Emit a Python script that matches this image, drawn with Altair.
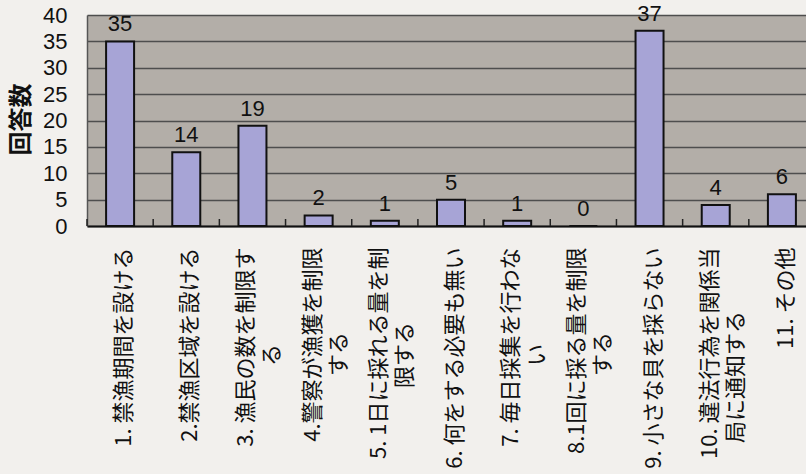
import altair as alt
import pandas as pd

# Survey answers: first and (optional) second line of each category label
items = [
    "1. 禁漁期間を設ける",
    "2.禁漁区域を設ける",
    "3. 漁民の数を制限す",
    "4.警察が漁獲を制限",
    "5. 1日に採れる量を制",
    "6. 何をする必要も無い",
    "7. 毎日採集を行わな",
    "8.1回に採る量を制限",
    "9. 小さな貝を採らない",
    "10. 違法行為を関係当",
    "11. その他",
]
item_tails = ["", "", "る", "する", "限する", "", "い", "する", "", "局に通知する", ""]
counts = [35, 14, 19, 2, 1, 5, 1, 0, 37, 4, 6]
y_ticks = [0, 5, 10, 15, 20, 25, 30, 35, 40]

df = pd.DataFrame({"item": items, "tail": item_tails, "count": counts})

VIEW_W, H = 719, 211   # visible plot area (runs to the right edge)
BAND_W = 728           # full category range, last band partly cut off
PAD_INNER = 0.577
STEP = BAND_W / len(items)
LABEL_PAD = 21
JP = "Noto Sans CJK JP"
NUM = "Liberation Sans"

x_scale = alt.Scale(domain=items, range=[0, BAND_W],
                    paddingInner=PAD_INNER, paddingOuter=PAD_INNER / 2)
y_scale = alt.Scale(domain=[0, 40])

wrapped = [i for i, t in zip(items, item_tails) if t]
wrapped_test = "indexof([" + ",".join("'" + w + "'" for w in wrapped) + "], datum.value) >= 0"

x_axis = alt.Axis(
    orient="bottom", labelAngle=-90, labelAlign="right",
    labelBaseline="middle", labelFont=JP, labelFontSize=22,
    labelColor="#111111", labelLimit=600, labelOverlap=False,
    labelBound=False, labelPadding=LABEL_PAD,
    labelOffset={"condition": {"test": wrapped_test, "value": -6}, "value": 4},
    ticks=False, tickSize=0, domain=True, domainColor="#111111",
    domainWidth=2, grid=False,
)

y_axis = alt.Axis(
    values=y_ticks, labelFont=NUM, labelFontSize=22,
    labelColor="#111111", labelPadding=20, ticks=False, tickSize=0,
    domain=True, domainColor="#555555", domainWidth=1.5,
    grid=True, gridColor="#4e4e4e", gridWidth=1.5,
    titleFont=JP, titleFontSize=24, titleFontWeight="bold",
    titleColor="#111111", titleAngle=270, titleX=-66, titleY=104,
    titleAlign="center", titleBaseline="middle",
)


def x_enc(**kw):
    return alt.X("item:N", sort=None, title=None, scale=x_scale, axis=x_axis, **kw)


bars = alt.Chart(df).mark_bar(
    color="#a7a4d6", stroke="#111111", strokeWidth=2
).encode(
    x=x_enc(),
    y=alt.Y("count:Q", scale=y_scale, title="回答数", axis=y_axis),
)

# Short inward tick marks on the category boundaries
ticks = alt.Chart(df).mark_rule(
    color="#222222", strokeWidth=1.5, xOffset=-STEP * PAD_INNER / 2
).encode(
    x=x_enc(bandPosition=0),
    y=alt.value(H - 7),
    y2=alt.value(H),
)

# Value labels above each bar
values = alt.Chart(df).mark_text(
    font=NUM, fontSize=22, baseline="alphabetic", dy=-10, color="#111111"
).encode(
    x=x_enc(),
    y=alt.Y("count:Q", scale=y_scale, title="回答数", axis=y_axis),
    text=alt.Text("count:Q"),
)

# Wrapped second lines of the long category labels, set a little right of
# the first line and indented so they sit near its middle
tail_indent = {"る": 97, "い": 97, "する": 85, "限する": 75, "局に通知する": 64}
tail_layers = []
for indent in sorted(set(tail_indent.values())):
    group = [t for t, v in tail_indent.items() if v == indent]
    tail_layers.append(
        alt.Chart(df).transform_filter(
            alt.FieldOneOfPredicate(field="tail", oneOf=group)
        ).mark_text(
            font=JP, fontSize=22, color="#111111", angle=270,
            align="right", baseline="middle", dx=-indent, dy=20,
        ).encode(
            x=x_enc(),
            y=alt.value(H + LABEL_PAD),
            text="tail:N",
        )
    )

chart = alt.layer(bars, ticks, values, *tail_layers).properties(
    width=VIEW_W,
    height=H,
    padding={"left": 87, "top": 15, "right": 0, "bottom": 248},
    autosize=alt.AutoSizeParams(type="none"),
    background="#f2f0ed",
).configure_view(
    fill="#b3aea8", stroke="transparent"
)

chart.save("out.html", embed_options={"renderer": "svg", "actions": False})
